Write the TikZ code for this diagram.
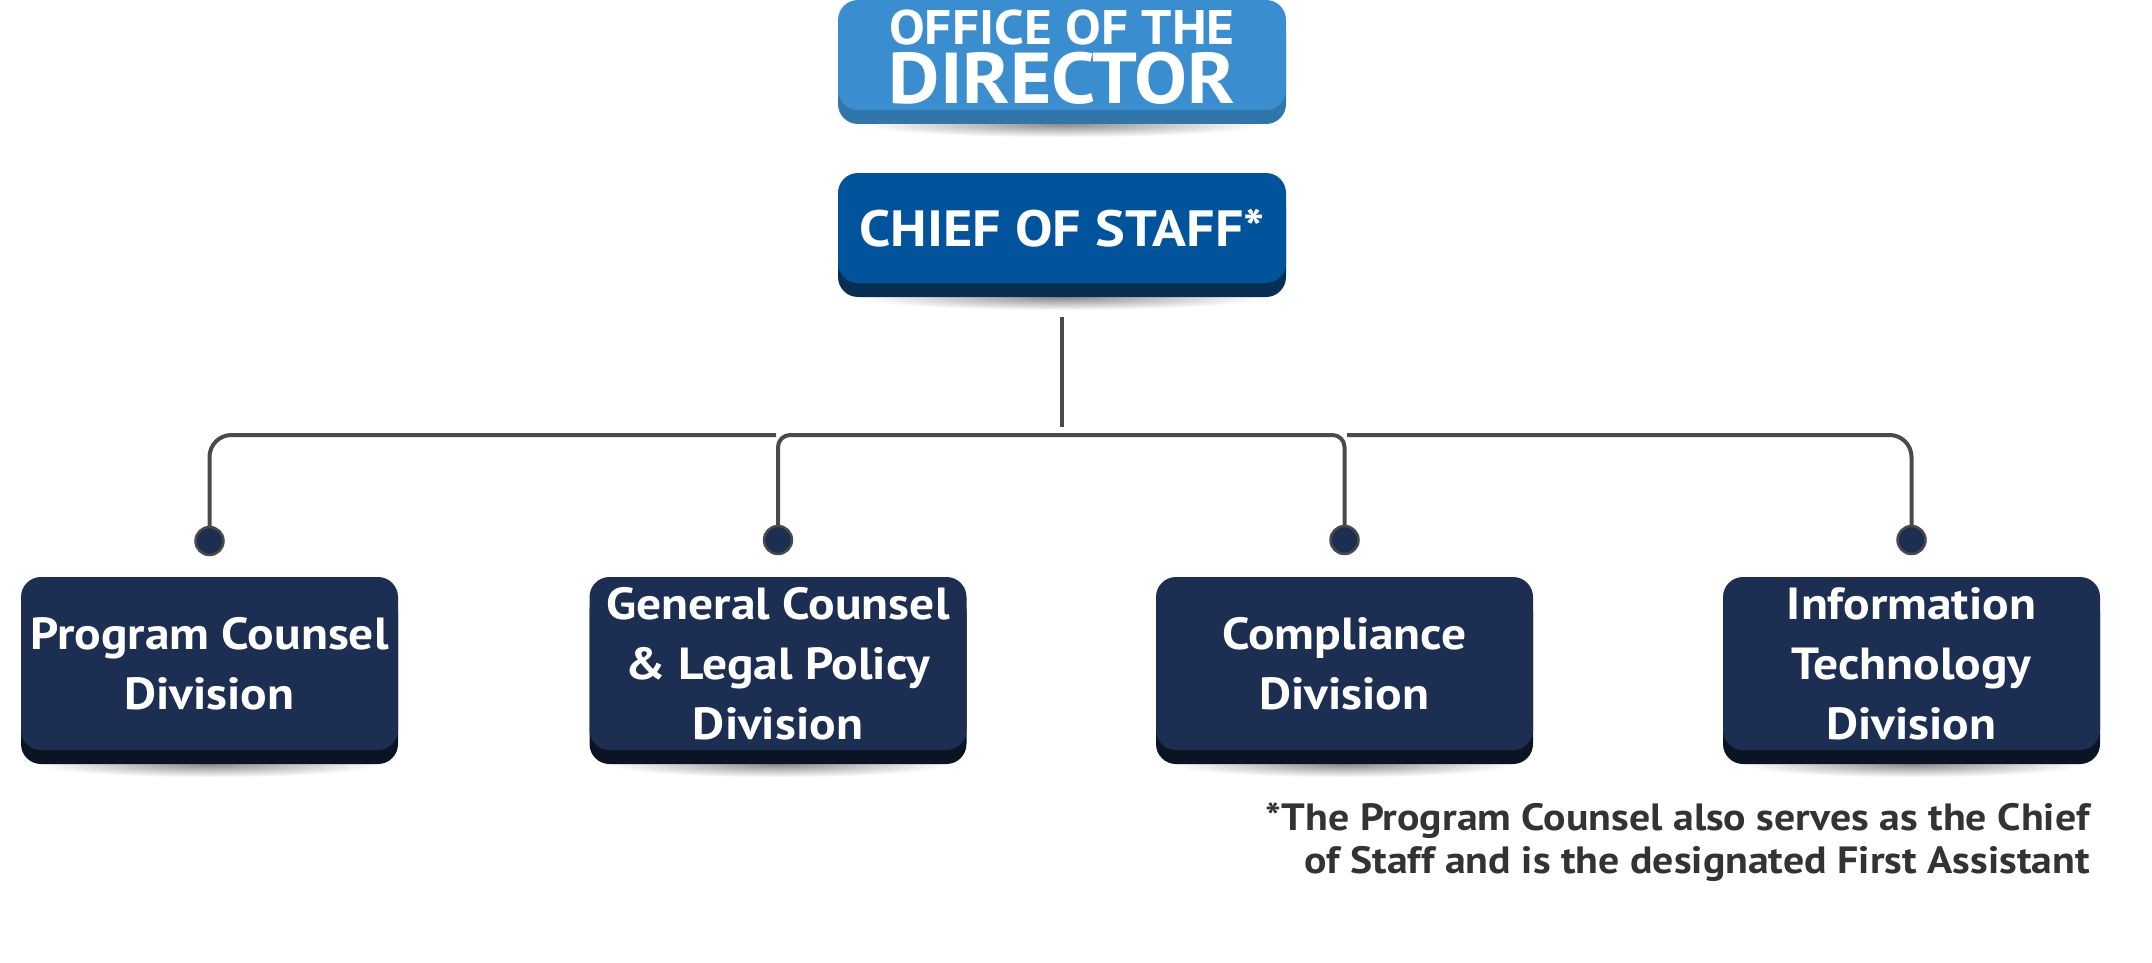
\documentclass[tikz,border=0pt]{standalone}
\usepackage{fontspec}
\setmainfont{PT Sans}[FakeStretch=1.1]
\usetikzlibrary{shadows}
\pgfdeclarelayer{bg}
\pgfsetlayers{bg,main}
\definecolor{topface}{HTML}{3A8DCE}
\definecolor{topband}{HTML}{2F77AA}
\definecolor{chiefface}{HTML}{01539C}
\definecolor{chiefband}{HTML}{062F53}
\definecolor{divface}{HTML}{1C2E51}
\definecolor{divband}{HTML}{0B1422}
\definecolor{linegray}{HTML}{4A4A4A}
\definecolor{notegray}{HTML}{333333}
\begin{document}
\begin{tikzpicture}[x=1pt,y=-1pt,
  facebox/.style={rectangle, rounded corners=20pt, inner sep=0pt, text=white,
    align=center, font=\bfseries},
  topbox/.style={facebox, fill=topface, minimum width=448pt, minimum height=110pt,
    general shadow={fill=topband, shadow yshift=-14pt}},
  chiefbox/.style={facebox, fill=chiefface, minimum width=448pt, minimum height=110pt,
    general shadow={fill=chiefband, shadow yshift=-14pt},
    font=\bfseries\fontsize{51}{60}\selectfont},
  divbox/.style={facebox, fill=divface, minimum width=377pt, minimum height=173pt,
    general shadow={fill=divband, shadow yshift=-14pt},
    font=\bfseries\fontsize{45}{60}\selectfont},
  softshadow/.style={inner color=black!45, outer color=white},
  conn/.style={draw=linegray, line width=4pt},
  dotnode/.style={circle, fill=divface, draw=linegray, line width=2.5pt,
    minimum size=28pt, inner sep=0pt},
  note/.style={text=notegray, font=\bfseries\fontsize{38}{43}\selectfont, align=right,
    inner sep=0pt}
]
\useasboundingbox (0,0) rectangle (2152,963);

% boxes
\node[topbox] (office) at (1062,55) {};
\node[font=\bfseries\fontsize{48.5}{48}\selectfont, text=white, inner sep=0pt, anchor=base,
  text depth=0pt] (officeA) at (1062,45) {OFFICE OF THE};
\node[font=\bfseries\fontsize{72}{72}\selectfont, text=white, inner sep=0pt, anchor=base,
  text height=49pt] (officeB) at (1062,104) {DIRECTOR};
\node[chiefbox] (chief) at (1062,228) {CHIEF OF STAFF*};

\node[divbox] (b1) at (209.5,663.5) {Program Counsel\\Division};
\node[divbox] (b2) at (778,663.5) {General Counsel\\\& Legal Policy\\Division};
\node[divbox] (b3) at (1344.5,663.5) {Compliance\\Division};
\node[divbox] (b4) at (1911.5,663.5) {Information\\Technology\\Division};

% soft shadows
\begin{pgfonlayer}{bg}
  \foreach \b/\r in {office/200, chief/200, b1/170, b2/170, b3/170, b4/170}{
    \shade[softshadow] ([yshift=-14pt]\b.south) ellipse [x radius=\r, y radius=13];
  }
\end{pgfonlayer}

% dots
\node[dotnode] (d1) at (209.5,541) {};
\node[dotnode] (d2) at (778,540) {};
\node[dotnode] (d3) at (1344.5,540) {};
\node[dotnode] (d4) at (1911.5,540) {};

% connectors
\coordinate (hubtop) at (1062,317);
\coordinate (hubbot) at (1062,427);
\coordinate (rail) at (0,435);
\coordinate (gapL) at (776,435);
\coordinate (gapR) at (1347,435);
\draw[conn] (hubtop) -- (hubbot);
\draw[conn, rounded corners=22pt] (d1.north) -- (d1 |- rail) -- (gapL);
\draw[conn, rounded corners=12pt] (d2.north) -- (d2 |- rail) -- (d3 |- rail) -- (d3.north);
\draw[conn, rounded corners=22pt] (gapR) -- (d4 |- rail) -- (d4.north);

% footnote
\node[note, anchor=north east] (fn) at (2090,803)
  {*The Program Counsel also serves as the Chief\\of Staff and is the designated First Assistant};
\end{tikzpicture}
\end{document}
